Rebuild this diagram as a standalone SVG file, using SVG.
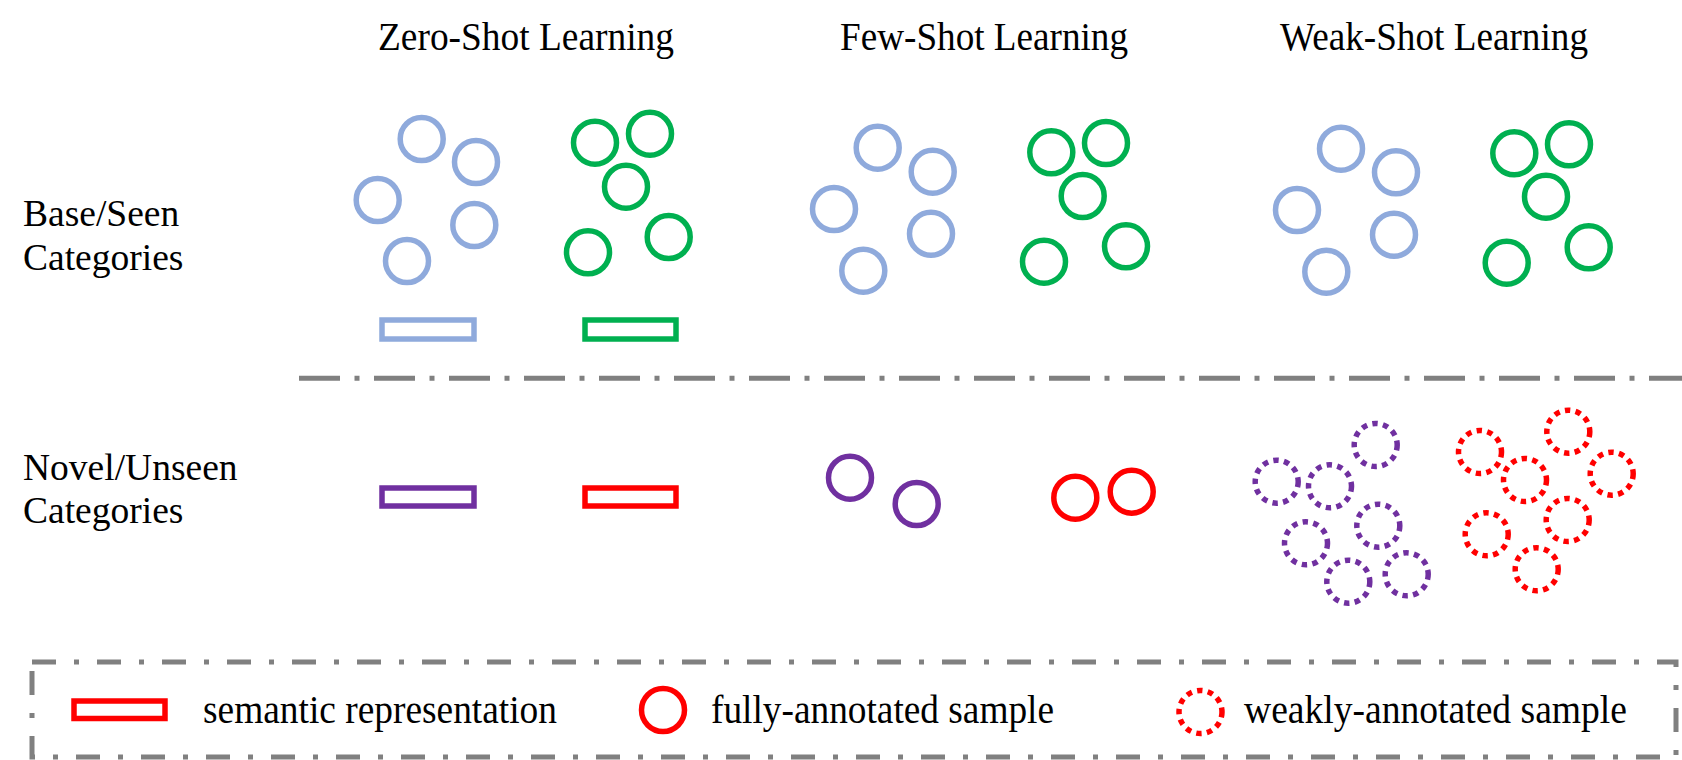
<svg xmlns="http://www.w3.org/2000/svg" width="1682" height="760" viewBox="0 0 1682 760">
<style>
  .t { font-family: "Liberation Serif", "Times New Roman", serif; fill: #000; }
  .title { font-size: 40px; }
  .lab { font-size: 37.5px; }
  .leg { font-size: 39px; }
  .c { fill: none; stroke-width: 5.5; }
  .d { fill: none; stroke-width: 5.5; stroke-dasharray: 5.5 5.3; }
  .r { fill: none; stroke-width: 5.5; }
  .blue { stroke: #8FAADC; }
  .green { stroke: #00B050; }
  .purple { stroke: #7030A0; }
  .red { stroke: #FF0000; }
</style>
<rect width="1682" height="760" fill="#fff"/>

<g id="titles">
  <text class="t title" x="378" y="50" textLength="296" lengthAdjust="spacingAndGlyphs">Zero-Shot Learning</text>
  <text class="t title" x="840" y="50" textLength="288" lengthAdjust="spacingAndGlyphs">Few-Shot Learning</text>
  <text class="t title" x="1280" y="50" textLength="308" lengthAdjust="spacingAndGlyphs">Weak-Shot Learning</text>
</g>

<g id="row-labels">
  <text class="t lab" x="23" y="226">Base/Seen</text>
  <text class="t lab" x="23" y="270">Categories</text>
  <text class="t lab" x="23" y="480">Novel/Unseen</text>
  <text class="t lab" x="23" y="523">Categories</text>
</g>

<g id="zsl-base-blue">
  <circle class="c blue" cx="421.7" cy="139" r="21.5"/>
  <circle class="c blue" cx="476" cy="162" r="21.5"/>
  <circle class="c blue" cx="377.7" cy="200" r="21.5"/>
  <circle class="c blue" cx="474.3" cy="225" r="21.5"/>
  <circle class="c blue" cx="407" cy="261" r="21.5"/>
  <rect class="r blue" x="382" y="320" width="92" height="19"/>
</g>
<g id="zsl-base-green">
  <circle class="c green" cx="595" cy="142.7" r="21.5"/>
  <circle class="c green" cx="650" cy="133.7" r="21.5"/>
  <circle class="c green" cx="626" cy="186.7" r="21.5"/>
  <circle class="c green" cx="668.7" cy="237" r="21.5"/>
  <circle class="c green" cx="588" cy="252.3" r="21.5"/>
  <rect class="r green" x="585" y="320" width="91" height="19"/>
</g>

<g id="fsl-base-blue">
  <circle class="c blue" cx="877.7" cy="147.7" r="21.5"/>
  <circle class="c blue" cx="932.7" cy="171.7" r="21.5"/>
  <circle class="c blue" cx="834" cy="209" r="21.5"/>
  <circle class="c blue" cx="931" cy="233.7" r="21.5"/>
  <circle class="c blue" cx="863.3" cy="270.7" r="21.5"/>
</g>
<g id="fsl-base-green">
  <circle class="c green" cx="1051.3" cy="152.3" r="21.5"/>
  <circle class="c green" cx="1106" cy="143" r="21.5"/>
  <circle class="c green" cx="1082.7" cy="196" r="21.5"/>
  <circle class="c green" cx="1126" cy="246.3" r="21.5"/>
  <circle class="c green" cx="1044" cy="261.7" r="21.5"/>
</g>

<g id="wsl-base-blue">
  <circle class="c blue" cx="1341" cy="148.7" r="21.5"/>
  <circle class="c blue" cx="1396" cy="172.3" r="21.5"/>
  <circle class="c blue" cx="1297" cy="210" r="21.5"/>
  <circle class="c blue" cx="1394" cy="234.7" r="21.5"/>
  <circle class="c blue" cx="1326.3" cy="271.7" r="21.5"/>
</g>
<g id="wsl-base-green">
  <circle class="c green" cx="1514.3" cy="153.3" r="21.5"/>
  <circle class="c green" cx="1569" cy="144.3" r="21.5"/>
  <circle class="c green" cx="1546" cy="196.7" r="21.5"/>
  <circle class="c green" cx="1588.7" cy="247.3" r="21.5"/>
  <circle class="c green" cx="1506.7" cy="262.7" r="21.5"/>
</g>

<g id="separator">
  <line x1="299" y1="378.3" x2="1682" y2="378.3" stroke="#808080" stroke-width="5" stroke-dasharray="41 14.5 5 14.5"/>
</g>

<g id="zsl-novel">
  <rect class="r purple" x="382" y="488" width="92" height="18"/>
  <rect class="r red" x="585" y="488" width="91" height="18"/>
</g>

<g id="fsl-novel">
  <circle class="c purple" cx="850" cy="477.7" r="21.5"/>
  <circle class="c purple" cx="916.7" cy="504" r="21.5"/>
  <circle class="c red" cx="1075.3" cy="497.7" r="21.5"/>
  <circle class="c red" cx="1131.7" cy="491.7" r="21.5"/>
</g>

<g id="wsl-novel-purple">
  <circle class="d purple" cx="1375.7" cy="445" r="21.5"/>
  <circle class="d purple" cx="1276.7" cy="481.7" r="21.5"/>
  <circle class="d purple" cx="1330" cy="486.3" r="21.5"/>
  <circle class="d purple" cx="1378.3" cy="525.7" r="21.5"/>
  <circle class="d purple" cx="1306" cy="543.3" r="21.5"/>
  <circle class="d purple" cx="1348.3" cy="581.7" r="21.5"/>
  <circle class="d purple" cx="1406.7" cy="574.3" r="21.5"/>
</g>
<g id="wsl-novel-red">
  <circle class="d red" cx="1568.3" cy="431.7" r="21.5"/>
  <circle class="d red" cx="1480" cy="452" r="21.5"/>
  <circle class="d red" cx="1525" cy="480" r="21.5"/>
  <circle class="d red" cx="1611.7" cy="473.7" r="21.5"/>
  <circle class="d red" cx="1567.7" cy="520" r="21.5"/>
  <circle class="d red" cx="1486.7" cy="534.3" r="21.5"/>
  <circle class="d red" cx="1536.7" cy="569.3" r="21.5"/>
</g>

<g id="legend">
  <rect x="32" y="662" width="1644" height="95" fill="none" stroke="#808080" stroke-width="5" stroke-dasharray="24 18 5 18"/>
  <rect class="r red" x="74" y="701" width="91" height="17.5"/>
  <text class="t leg" x="203" y="722.7" textLength="354" lengthAdjust="spacingAndGlyphs">semantic representation</text>
  <circle class="c red" cx="663" cy="710" r="21.5"/>
  <text class="t leg" x="711" y="722.7" textLength="343" lengthAdjust="spacingAndGlyphs">fully-annotated sample</text>
  <circle class="d red" cx="1200.5" cy="712" r="21.5"/>
  <text class="t leg" x="1244" y="722.7" textLength="383" lengthAdjust="spacingAndGlyphs">weakly-annotated sample</text>
</g>
</svg>
